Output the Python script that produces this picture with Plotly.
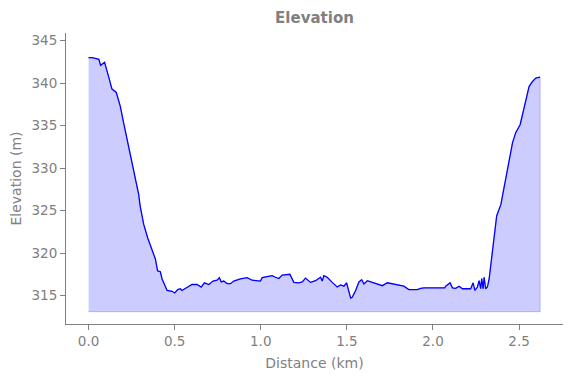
import plotly.graph_objects as go

distance_km = [0.00, 0.02, 0.04, 0.06, 0.07, 0.093, 0.116, 0.136, 0.161, 0.184,
               0.204, 0.223, 0.242, 0.252, 0.272, 0.291, 0.30, 0.32, 0.343, 0.368,
               0.388, 0.401, 0.417, 0.427, 0.446, 0.456, 0.485, 0.50, 0.518, 0.533,
               0.542, 0.572, 0.601, 0.630, 0.654, 0.673, 0.698, 0.723, 0.746, 0.760,
               0.770, 0.785, 0.805, 0.824, 0.843, 0.882, 0.921, 0.950, 0.998, 1.008,
               1.047, 1.066, 1.085, 1.105, 1.124, 1.169, 1.192, 1.221, 1.241, 1.26,
               1.289, 1.318, 1.347, 1.357, 1.366, 1.386, 1.415, 1.444, 1.463, 1.483,
               1.498, 1.508, 1.522, 1.531, 1.551, 1.570, 1.586, 1.599, 1.619, 1.648,
               1.677, 1.706, 1.735, 1.764, 1.802, 1.831, 1.860, 1.909, 1.928, 1.948,
               2.068, 2.074, 2.099, 2.113, 2.132, 2.151, 2.171, 2.219, 2.233, 2.243,
               2.258, 2.268, 2.277, 2.283, 2.291, 2.297, 2.306, 2.316, 2.326, 2.345,
               2.370, 2.394, 2.413, 2.436, 2.462, 2.481, 2.506, 2.520, 2.539, 2.558,
               2.578, 2.597, 2.622]

elevation_m = [343.0, 343.0, 342.9, 342.8, 342.1, 342.45, 340.8, 339.3, 338.9, 337.3,
               335.3, 333.4, 331.4, 330.6, 328.5, 326.9, 325.5, 323.4, 321.8, 320.5,
               319.3, 317.9, 317.8, 316.95, 316.0, 315.6, 315.5, 315.3, 315.7, 315.8,
               315.6, 316.0, 316.3, 316.3, 316.0, 316.5, 316.3, 316.7, 316.8, 317.1,
               316.6, 316.7, 316.4, 316.4, 316.7, 316.95, 317.1, 316.8, 316.7, 317.1,
               317.3, 317.35, 317.15, 317.0, 317.4, 317.5, 316.55, 316.5, 316.6, 317.05,
               316.55, 316.75, 317.15, 316.7, 317.35, 317.15, 316.55, 316.0, 316.25, 316.1,
               316.5, 315.6, 314.7, 314.8, 315.6, 316.6, 316.86, 316.36, 316.75, 316.55,
               316.36, 316.16, 316.5, 316.36, 316.16, 316.1, 315.7, 315.7, 315.85, 315.9,
               315.9, 316.1, 316.5, 315.9, 315.85, 316.1, 315.8, 315.8, 316.5, 315.6,
               316.0, 316.75, 315.8, 317.0, 315.8, 317.15, 315.8, 316.0, 316.95, 320.5,
               324.4, 325.7, 327.9, 330.2, 333.0, 334.2, 335.1, 336.3, 337.85, 339.6,
               340.2, 340.6, 340.7]

baseline_m = 313.1

x_ticks = [0.0, 0.5, 1.0, 1.5, 2.0, 2.5]
x_tick_labels = ["0.0", "0.5", "1.0", "1.5", "2.0", "2.5"]
y_ticks = [315, 320, 325, 330, 335, 340, 345]

GRAY = "#808080"
FONT = "DejaVu Sans"

fig = go.Figure()

# filled area between profile and baseline
poly_x = distance_km + [distance_km[-1], distance_km[0]]
poly_y = elevation_m + [baseline_m, baseline_m]
fig.add_trace(go.Scatter(
    x=poly_x, y=poly_y, mode="lines", fill="toself",
    fillcolor="rgba(0,0,255,0.2)",
    line=dict(color="rgba(0,0,255,0.22)", width=1),
    hoverinfo="skip", showlegend=False))

fig.add_trace(go.Scatter(
    x=distance_km, y=elevation_m, mode="lines",
    line=dict(color="blue", width=1.3),
    showlegend=False))

fig.update_layout(
    width=571, height=378,
    margin=dict(l=66, r=8, t=33, b=54),
    paper_bgcolor="white", plot_bgcolor="white",
    font=dict(family=FONT, color=GRAY, size=13),
    title=dict(text="<b>Elevation</b>", x=0.5, xanchor="center",
               y=1 - 18 / 378, yanchor="middle",
               xref="paper",
               font=dict(family=FONT, size=15, color=GRAY)),
    xaxis=dict(
        range=[-0.131, 2.755], automargin=False,
        tickvals=x_ticks, ticktext=x_tick_labels,
        ticks="outside", ticklen=5, tickwidth=1, tickcolor=GRAY,
        showline=True, linecolor=GRAY, linewidth=1,
        showgrid=False, zeroline=False,
        tickfont=dict(family=FONT, size=13.5, color=GRAY),
        title=dict(text="Distance (km)", standoff=9,
                   font=dict(family=FONT, size=14, color=GRAY)),
    ),
    yaxis=dict(
        range=[311.65, 345.9], automargin=False,
        tickvals=y_ticks,
        ticks="outside", ticklen=5, tickwidth=1, tickcolor=GRAY,
        showline=True, linecolor=GRAY, linewidth=1,
        showgrid=False, zeroline=False,
        tickfont=dict(family=FONT, size=13.5, color=GRAY),
        title=dict(text="Elevation (m)", standoff=6,
                   font=dict(family=FONT, size=14, color=GRAY)),
    ),
)

fig.write_html("out.html",
               config={"displayModeBar": False},
               post_script="document.body.style.margin='0';")
